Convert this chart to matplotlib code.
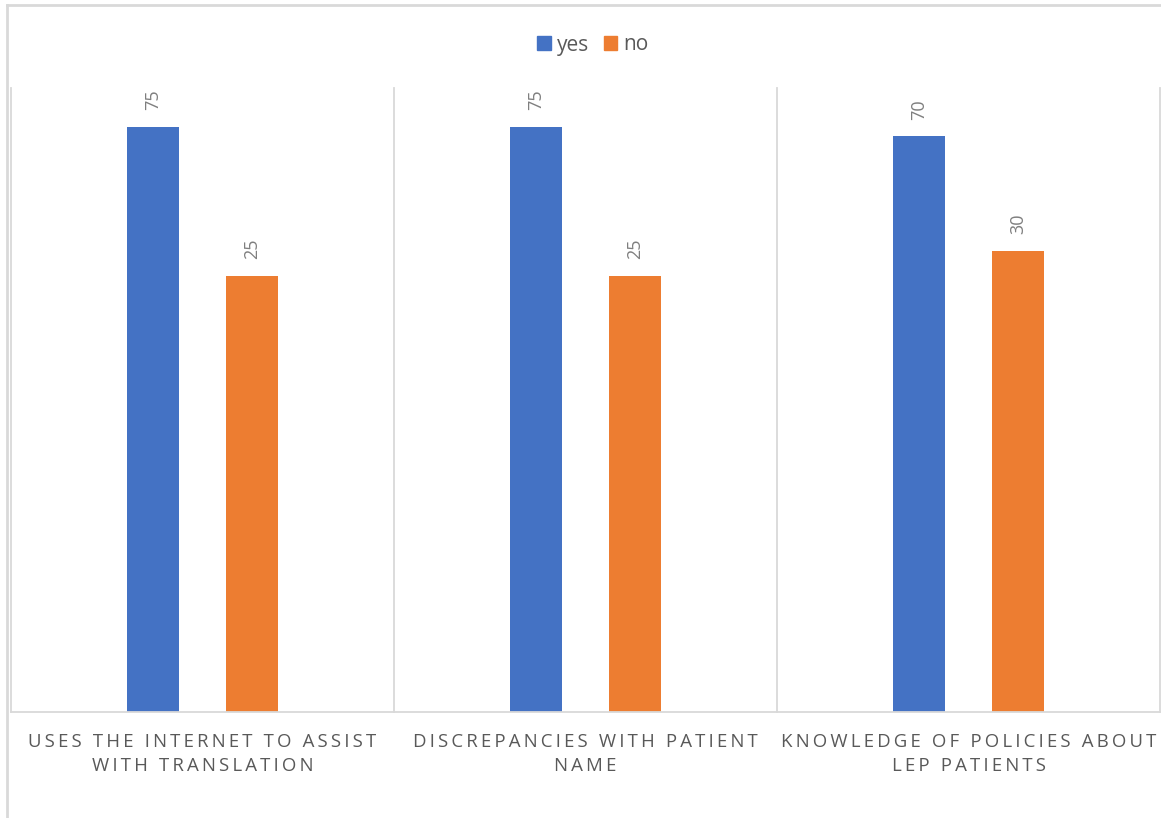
import matplotlib.pyplot as plt
from matplotlib.patches import Patch
from matplotlib.lines import Line2D

plt.rcParams['font.family'] = ['Open Sans', 'DejaVu Sans']

categories = ['USES THE INTERNET TO ASSIST\nWITH TRANSLATION',
              'DISCREPANCIES WITH PATIENT\nNAME',
              'KNOWLEDGE OF POLICIES ABOUT\nLEP PATIENTS']
yes_vals = [75, 75, 70]
no_vals = [25, 25, 30]

BLUE = '#4472C4'
ORANGE = '#ED7D31'
GRID = '#d9d9d9'


def spaced(label):
    # imitate Excel letter spacing with thin spaces
    lines = []
    for line in label.split('\n'):
        words = ['\u2009'.join(w) for w in line.split(' ')]
        lines.append('\u2009 \u2009'.join(words))
    return '\n'.join(lines)


W, H = 1161, 818
fig = plt.figure(figsize=(W / 100, H / 100), dpi=100)
ax = fig.add_axes([11 / W, (H - 712) / H, (1160 - 11) / W, (712 - 88) / H])

x = list(range(len(categories)))
off = 0.129
bw = 0.136
b1 = ax.bar([i - off for i in x], yes_vals, bw, color=BLUE)
b2 = ax.bar([i + off for i in x], no_vals, bw, color=ORANGE)

ax.set_yscale('log')
ax.set_ylim(1, 100)
ax.set_xlim(-0.5, len(categories) - 0.5)

for bars, vals in ((b1, yes_vals), (b2, no_vals)):
    for r, v in zip(bars, vals):
        ax.annotate(str(v), (r.get_x() + r.get_width() / 2, v),
                    xytext=(0, 12), textcoords='offset points',
                    rotation=90, ha='center', va='bottom',
                    fontsize=13, color='#7f7f7f')

for b in [i - 0.5 for i in range(len(categories) + 1)]:
    ax.axvline(b, color=GRID, lw=1.3, clip_on=False, zorder=0)

for s in ['top', 'left', 'right']:
    ax.spines[s].set_visible(False)
ax.spines['bottom'].set_color(GRID)
ax.spines['bottom'].set_linewidth(1.3)
ax.set_yticks([])
ax.minorticks_off()
ax.set_xticks(x)
ax.set_xticklabels([spaced(c) for c in categories], fontsize=13.4,
                   color='#595959', linespacing=1.45)
ax.tick_params(axis='x', length=0, pad=15)
ax.tick_params(axis='y', which='both', left=False, labelleft=False)

handles = [Patch(color=BLUE, label='yes'), Patch(color=ORANGE, label='no')]
fig.legend(handles=handles, loc='center', bbox_to_anchor=(593 / W, 1 - 45 / H),
           ncol=2, frameon=False, fontsize=15, handlelength=0.65,
           handleheight=0.65, handletextpad=0.3, columnspacing=0.7,
           labelcolor='#595959')

# chart frame
fig.add_artist(Line2D([7 / W, 7 / W], [0, 1 - 5 / H], color=GRID, lw=2))
fig.add_artist(Line2D([7 / W, 1], [1 - 5 / H, 1 - 5 / H], color=GRID, lw=2))

fig.savefig('out.png', dpi=100)
